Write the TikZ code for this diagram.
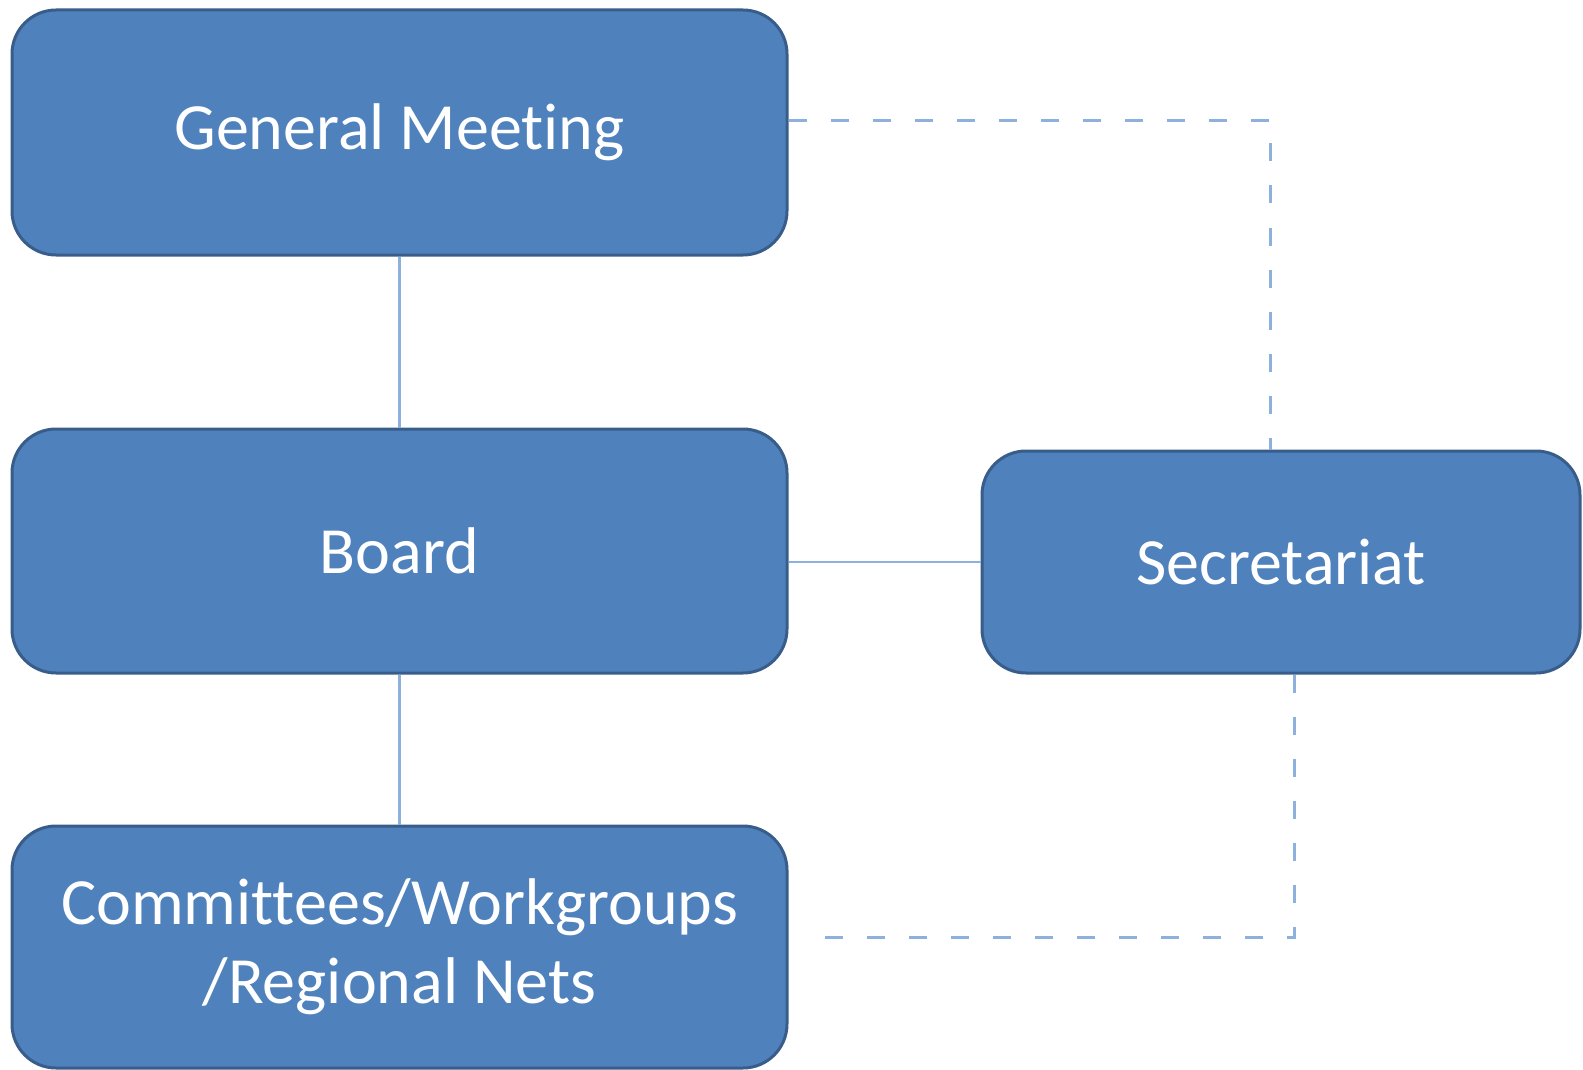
\documentclass[tikz,border=0pt]{standalone}
\usepackage{fontspec}
\setmainfont[Ligatures=CommonOff]{Carlito}
\definecolor{boxfill}{HTML}{4F81BD}
\definecolor{boxedge}{HTML}{385D8A}
\definecolor{linkcol}{HTML}{8DB0DC}
\tikzset{
  orgbox/.style={draw=boxedge, line width=3pt, fill=boxfill, rounded corners=44pt,
    text=white, align=center, inner sep=0pt,
    font=\fontsize{66}{79}\selectfont},
  solidlink/.style={draw=linkcol, line width=2.5pt},
  dashlink/.style={draw=linkcol, line width=3pt, dash pattern=on 18pt off 24pt}
}
\begin{document}
\begin{tikzpicture}[x=1pt,y=-1pt]
\useasboundingbox (0,0) rectangle (1583,1070);
\node[orgbox, minimum width=775pt, minimum height=245pt] (gm) at (399.5,132.5) {General Meeting};
\node[orgbox, minimum width=775pt, minimum height=244pt] (board) at (399.5,551) {Board};
\node[orgbox, minimum width=775pt, minimum height=242pt] (comm) at (399.5,947) {Committees/Workgroups\\/Regional Nets};
\node[orgbox, minimum width=598pt, minimum height=222pt] (sec) at (1281,562) {Secretariat};
\draw[solidlink] (gm.south) -- (board.north);
\draw[solidlink] (board.south) -- (comm.north);
\draw[solidlink] (sec.west) -- (board.east |- sec.west);
\coordinate (c1) at (1270,121);
\draw[dashlink] (gm.east |- c1) -- (c1) -- (c1 |- sec.north);
\coordinate (c2) at (1294,937);
\coordinate (c3) at (804,937);
\draw[dashlink] (c2 |- sec.south) -- (c2) -- (c3);
\end{tikzpicture}
\end{document}
